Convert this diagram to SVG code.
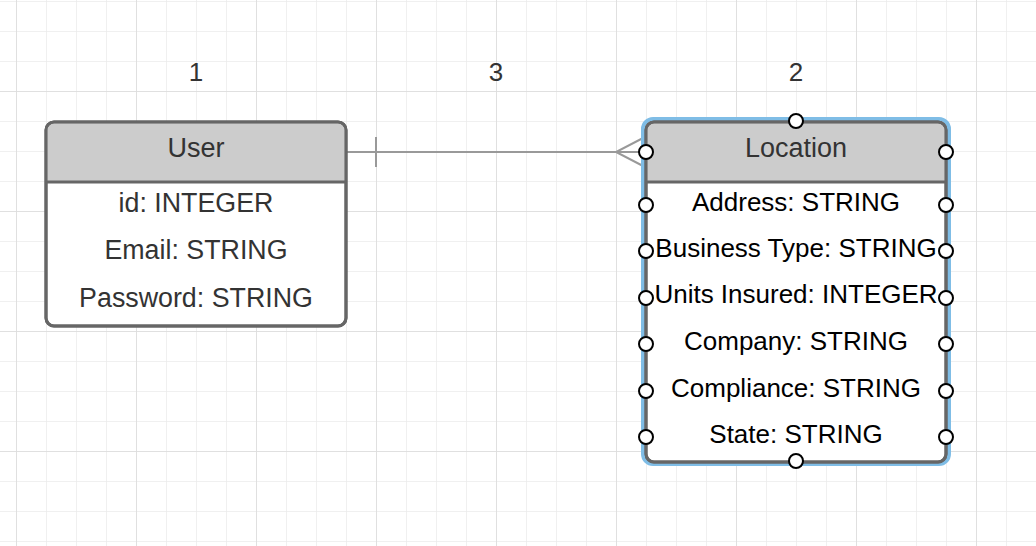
<svg xmlns="http://www.w3.org/2000/svg" width="1036" height="546" viewBox="0 0 1036 546">
<defs>
<pattern id="minor" x="16" y="1" width="30" height="30" patternUnits="userSpaceOnUse">
<path d="M0 0H30M0 0V30" fill="none" stroke="#ebebeb" stroke-width="1.5"/>
</pattern>
<pattern id="major" x="16" y="91" width="120" height="120" patternUnits="userSpaceOnUse">
<path d="M0 0H120M0 0V120" fill="none" stroke="#dcdcdc" stroke-width="1.5"/>
</pattern>
</defs>
<style>
.t{font-family:"Liberation Sans",Arial,sans-serif;font-size:26px;text-anchor:middle}
.hd{font-size:27px}
.ur{font-size:26.8px}
.g{fill:#333}
.k{fill:#000}
.box{fill:#fff;stroke:#666;stroke-width:3}
.hdr{fill:#ccc}
.sep{stroke:#666;stroke-width:3}
.conn{fill:none;stroke:#999;stroke-width:2}
.h{fill:#fff;stroke:#000;stroke-width:2}
</style>
<rect width="1036" height="546" fill="#fff"/>
<rect width="1036" height="546" fill="url(#minor)"/>
<rect width="1036" height="546" fill="url(#major)"/>
<g id="labels">
<text class="t g" x="196" y="81">1</text>
<text class="t g" x="496" y="81">3</text>
<text class="t g" x="796" y="81">2</text>
</g>
<g id="connectors">
<path class="conn" d="M346 152H646"/>
<path class="conn" d="M376 137V167"/>
<path class="conn" d="M645 137L616 152L645 167"/>
</g>
<g id="user">
<rect class="box" x="46" y="122" width="300" height="204" rx="8"/>
<path class="hdr" d="M54 123.5H338A6.5 6.5 0 0 1 344.5 130V182H47.5V130A6.5 6.5 0 0 1 54 123.5Z"/>
<rect x="46" y="122" width="300" height="204" rx="8" fill="none" stroke="#666" stroke-width="3"/>
<path class="sep" d="M46 182H346"/>
<text class="t hd g" x="196" y="157">User</text>
<text class="t ur g" x="196" y="212">id: INTEGER</text>
<text class="t ur g" x="196" y="259">Email: STRING</text>
<text class="t ur g" x="196" y="307">Password: STRING</text>
</g>
<g id="location">
<rect x="643" y="119" width="306" height="345" rx="10" fill="none" stroke="#7fbde6" stroke-width="4"/>
<rect class="box" x="646" y="122" width="300" height="340" rx="8"/>
<path class="hdr" d="M654 123.5H938A6.5 6.5 0 0 1 944.5 130V182H647.5V130A6.5 6.5 0 0 1 654 123.5Z"/>
<rect x="646" y="122" width="300" height="340" rx="8" fill="none" stroke="#666" stroke-width="3"/>
<path class="sep" d="M646 182H946"/>
<text class="t hd g" x="796" y="157">Location</text>
<text class="t k" x="796" y="211">Address: STRING</text>
<text class="t k" x="796" y="257">Business Type: STRING</text>
<text class="t k" x="796" y="303">Units Insured: INTEGER</text>
<text class="t k" x="796" y="350">Company: STRING</text>
<text class="t k" x="796" y="397">Compliance: STRING</text>
<text class="t k" x="796" y="443">State: STRING</text>
<g id="handles">
<circle class="h" cx="796" cy="121" r="7"/>
<circle class="h" cx="796" cy="461" r="7"/>
<circle class="h" cx="646" cy="152" r="7"/>
<circle class="h" cx="646" cy="205" r="7"/>
<circle class="h" cx="646" cy="251" r="7"/>
<circle class="h" cx="646" cy="298" r="7"/>
<circle class="h" cx="646" cy="344" r="7"/>
<circle class="h" cx="646" cy="391" r="7"/>
<circle class="h" cx="646" cy="437" r="7"/>
<circle class="h" cx="946" cy="152" r="7"/>
<circle class="h" cx="946" cy="205" r="7"/>
<circle class="h" cx="946" cy="251" r="7"/>
<circle class="h" cx="946" cy="298" r="7"/>
<circle class="h" cx="946" cy="344" r="7"/>
<circle class="h" cx="946" cy="391" r="7"/>
<circle class="h" cx="946" cy="437" r="7"/>
</g>
</g>
</svg>
